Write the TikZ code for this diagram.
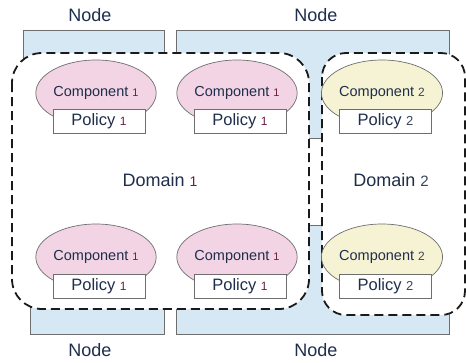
\documentclass[tikz,border=0pt]{standalone}
\usepackage{fontspec}
\setmainfont{Liberation Sans}
\usetikzlibrary{shapes.geometric}
\definecolor{nodeblue}{HTML}{D6E8F4}
\definecolor{edgegray}{HTML}{6E6E6E}
\definecolor{txtnavy}{HTML}{1F2E4C}
\definecolor{pinkfill}{HTML}{F2D4E4}
\definecolor{yellowfill}{HTML}{F5F3D3}
\definecolor{subone}{HTML}{6A1F48}
\definecolor{subtwo}{HTML}{38465A}
\definecolor{dashblack}{HTML}{1A1A1A}
\tikzset{
  hostfill/.style={fill=nodeblue, draw=none},
  hostline/.style={draw=edgegray, line width=0.9pt},
  domainbox/.style={fill=white, draw=dashblack, line width=1.8pt, dash pattern=on 9pt off 5pt},
  compone/.style={ellipse, fill=pinkfill, draw=edgegray, line width=0.7pt, minimum width=110pt, minimum height=66pt, inner sep=0pt, text=txtnavy, font=\fontsize{14.5}{16}\selectfont},
  comptwo/.style={compone, fill=yellowfill},
  policybox/.style={rectangle, fill=white, draw=edgegray, line width=0.9pt, minimum width=92pt, minimum height=24pt, inner sep=0pt, text=txtnavy, font=\fontsize{16.5}{18}\selectfont},
  biglabel/.style={text=txtnavy, font=\fontsize{18}{20}\selectfont, inner sep=0pt}
}
\newcommand{\subA}[1]{{\color{subone}\fontsize{#1}{#1}\selectfont 1}}
\newcommand{\subB}[1]{{\color{subtwo}\fontsize{#1}{#1}\selectfont 2}}
\begin{document}
\begin{tikzpicture}[x=1pt,y=-1pt]
\useasboundingbox (0,0) rectangle (466,362);

% host machines (blue shapes behind the domains)
\path[hostfill] (23,30) rectangle (164,100);
\draw[hostline] (23,100) -- (23,30) -- (164,30) -- (164,60);
\path[hostfill] (176,30) rectangle (449,100) (309,90) rectangle (322,138);
\draw[hostline] (176,60) -- (176,30) -- (449,30) -- (449,60);
\draw[hostline] (309,138) -- (322,138);

\path[hostfill] (30,270) rectangle (164,334);
\draw[hostline] (30,270) -- (30,334) -- (164,334) -- (164,300);
\path[hostfill] (176,280) rectangle (449,334) (309,225) rectangle (322,290);
\draw[hostline] (176,300) -- (176,334) -- (449,334) -- (449,300);
\draw[hostline] (309,225) -- (322,225);

% domains
\draw[domainbox, rounded corners=30pt] (12,53) rectangle (309,309);
\draw[domainbox, rounded corners=24pt] (322,53) rectangle (465,315);

% components with their policies
\node[compone] (c1a) at (96,93) {Component \subA{11}};
\node[policybox] (p1a) at (99,121) {Policy \subA{12}};
\node[compone] (c1b) at (237,93) {Component \subA{11}};
\node[policybox] (p1b) at (240,121) {Policy \subA{12}};
\node[comptwo] (c2a) at (382,93) {Component \subB{12}};
\node[policybox] (p2a) at (385.5,121) {Policy \subB{13}};

\node[compone] (c1c) at (96,257) {Component \subA{11}};
\node[policybox] (p1c) at (99,286) {Policy \subA{12}};
\node[compone] (c1d) at (237,257) {Component \subA{11}};
\node[policybox] (p1d) at (240,286) {Policy \subA{12}};
\node[comptwo] (c2b) at (382,257) {Component \subB{12}};
\node[policybox] (p2b) at (385.5,286) {Policy \subB{13}};

% labels
\node[biglabel] (d1) at (160,180) {Domain \subA{14}};
\node[biglabel] (d2) at (391,180) {Domain \subB{15}};
\node[biglabel] (n1) at (90,15) {Node};
\node[biglabel] (n2) at (316,15) {Node};
\node[biglabel] (n3) at (90,350) {Node};
\node[biglabel] (n4) at (316,350) {Node};
\end{tikzpicture}
\end{document}
